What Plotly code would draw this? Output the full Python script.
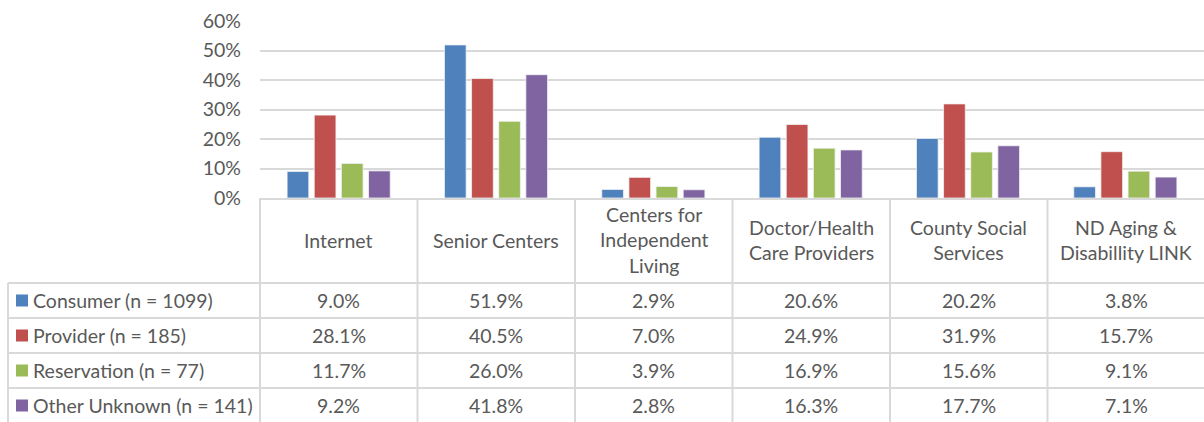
import plotly.graph_objects as go

categories = ["Internet", "Senior Centers", "Centers for<br>Independent<br>Living",
              "Doctor/Health<br>Care Providers", "County Social<br>Services",
              "ND Aging &<br>Disabillity LINK"]
series_names = ["Consumer (n = 1099)", "Provider (n = 185)",
                "Reservation (n = 77)", "Other Unknown (n = 141)"]
consumer = [9.0, 51.9, 2.9, 20.6, 20.2, 3.8]
provider = [28.1, 40.5, 7.0, 24.9, 31.9, 15.7]
reservation = [11.7, 26.0, 3.9, 16.9, 15.6, 9.1]
other_unknown = [9.2, 41.8, 2.8, 16.3, 17.7, 7.1]
y_ticks = [0, 10, 20, 30, 40, 50, 60]

series_values = [consumer, provider, reservation, other_unknown]
colors = ["#4F81BD", "#C0504D", "#9BBB59", "#8064A2"]

W, H = 1204, 422
FONT = "Lato"
FS = 19.5
TXT = "#595959"
LINE = "#D9D9D9"

def px(x):
    return x / W

def py(y):
    return (H - y) / H

x_left, x_right = 260, 1205
y_zero, y_top = 198, 21
col_w = (x_right - x_left) / len(categories)

fig = go.Figure()
idx = list(range(len(categories)))
for name, vals, c in zip(series_names, series_values, colors):
    fig.add_trace(go.Bar(x=idx, y=[v / 100 for v in vals], name=name,
                         marker=dict(color=c, line=dict(color="#F2F2F2", width=0.8)),
                         showlegend=False, hoverinfo="skip"))

shapes = []
annotations = []
row_lines = [283, 318, 353, 388, 423]
for ry in row_lines:
    shapes.append(dict(type="line", xref="paper", yref="paper",
                       x0=px(8), x1=px(x_right), y0=py(ry), y1=py(ry),
                       line=dict(color=LINE, width=2)))
for i in range(len(categories)):
    xv = x_left + i * col_w
    shapes.append(dict(type="line", xref="paper", yref="paper",
                       x0=px(xv), x1=px(xv), y0=py(y_zero), y1=py(423),
                       line=dict(color=LINE, width=2)))
shapes.append(dict(type="line", xref="paper", yref="paper",
                   x0=px(8), x1=px(8), y0=py(283), y1=py(423),
                   line=dict(color=LINE, width=2)))

for i, cat in enumerate(categories):
    cx = x_left + (i + 0.5) * col_w
    annotations.append(dict(x=px(cx), y=py(240), xref="paper", yref="paper",
                            text=cat, showarrow=False, xanchor="center", yanchor="middle",
                            font=dict(family=FONT, size=FS, color=TXT)))
row_centers = [300.5, 335.5, 370.5, 405.5]
for r, (name, vals, c) in enumerate(zip(series_names, series_values, colors)):
    yc = row_centers[r]
    shapes.append(dict(type="rect", xref="paper", yref="paper",
                       x0=px(16), x1=px(28), y0=py(yc - 6), y1=py(yc + 6),
                       fillcolor=c, line=dict(width=0)))
    annotations.append(dict(x=px(31), y=py(yc), xref="paper", yref="paper",
                            text=name, showarrow=False, xanchor="left", yanchor="middle",
                            font=dict(family=FONT, size=FS, color=TXT)))
    for i, v in enumerate(vals):
        cx = x_left + (i + 0.5) * col_w
        annotations.append(dict(x=px(cx), y=py(yc), xref="paper", yref="paper",
                                text=f"{v:.1f}%", showarrow=False, xanchor="center",
                                yanchor="middle",
                                font=dict(family=FONT, size=FS, color=TXT)))

fig.update_layout(
    width=W, height=H,
    margin=dict(l=0, r=0, t=0, b=0, autoexpand=False),
    paper_bgcolor="white", plot_bgcolor="white",
    barmode="group", bargap=0.31, bargroupgap=0.2,
    shapes=shapes, annotations=annotations,
    xaxis=dict(domain=[px(x_left), 1.0], range=[-0.5, len(categories) - 0.5],
               showticklabels=False, showgrid=False, zeroline=False, automargin=False,
               showline=True, linecolor=LINE, linewidth=2, ticks=""),
    yaxis=dict(domain=[py(y_zero), py(y_top)], range=[0, 0.6], automargin=False,
               tickvals=[t / 100 for t in y_ticks], ticktext=[f"{t}%" for t in y_ticks],
               showgrid=True, gridcolor=LINE, gridwidth=2, zeroline=False,
               showline=False, ticks="", ticklabelstandoff=18,
               tickfont=dict(family=FONT, size=FS, color=TXT)),
)

fig.write_html("out.html", config={"displayModeBar": False},
               post_script="document.body.style.margin='0';document.body.style.overflow='hidden';")
